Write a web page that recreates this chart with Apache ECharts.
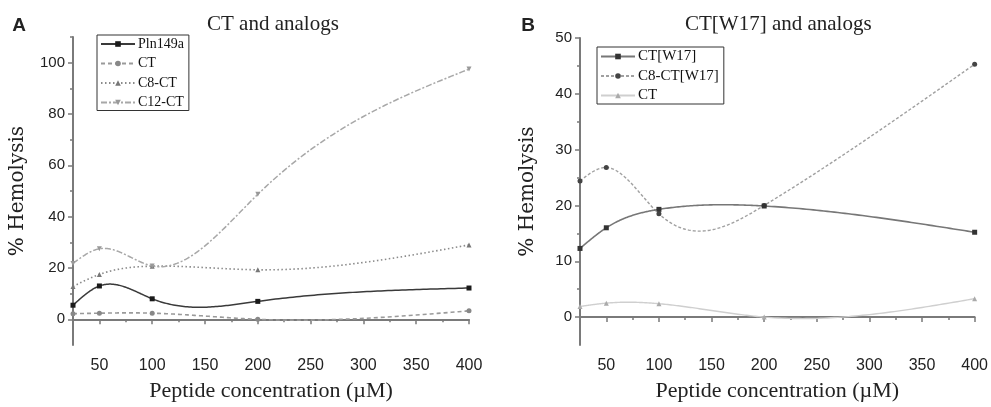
<!DOCTYPE html>
<html>
<head>
<meta charset="utf-8">
<script src="https://cdn.jsdelivr.net/npm/echarts@6/dist/echarts.min.js"></script>
<style>
  html, body { margin: 0; padding: 0; background: #fff; }
  #chart { width: 991px; height: 407px; }
</style>
</head>
<body>
<div id="chart"></div>
<script>
// Peptide concentrations tested (µM)
const concentrations = [25, 50, 100, 200, 400];
const xTicks = [50, 100, 150, 200, 250, 300, 350, 400];
const xMinorTicks = [75, 125, 175, 225, 275, 325, 375];

// Panel A: CT and analogs (% hemolysis)
const pln149a = [5.5, 13.0, 8.0, 7.0, 12.2];
const ctA = [2.2, 2.4, 2.4, 0.0, 3.3];
const c8ct = [12.8, 17.5, 20.7, 19.3, 29.0];
const c12ct = [21.8, 27.5, 20.8, 48.7, 97.5];
const yTicksA = [0, 20, 40, 60, 80, 100];
const yMinorTicksA = [10, 30, 50, 70, 90, 110];

// Panel B: CT[W17] and analogs (% hemolysis)
const ctW17 = [12.3, 16.0, 19.3, 19.9, 15.2];
const c8ctW17 = [24.4, 26.8, 18.5, 20.0, 45.3];
const ctB = [1.9, 2.5, 2.4, 0.0, 3.3];
const yTicksB = [0, 10, 20, 30, 40, 50];
const yMinorTicksB = [5, 15, 25, 35, 45];

const pairs = vals => concentrations.map((c, i) => [c, vals[i]]);

const AXIS_COLOR = '#7a7a7a';
const LABEL_COLOR = '#222';
const SERIF = '"Liberation Serif", "DejaVu Serif", serif';
const SANS = '"Liberation Sans", Arial, sans-serif';

function majorX(gridIndex) {
  return {
    type: 'value', gridIndex, min: 25, max: 400, position: 'bottom',
    name: 'Peptide concentration (\u00b5M)', nameLocation: 'middle', nameGap: 35,
    nameTextStyle: { fontFamily: SERIF, fontSize: 22, color: LABEL_COLOR },
    axisLine: { show: true, lineStyle: { color: AXIS_COLOR, width: 2 } },
    axisTick: { show: true, inside: false, length: 5, customValues: xTicks,
                lineStyle: { color: AXIS_COLOR, width: 1.5 } },
    axisLabel: { show: true, customValues: xTicks, margin: 13,
                 fontFamily: SANS, fontSize: 16, color: LABEL_COLOR },
    splitLine: { show: false }
  };
}
function minorX(gridIndex) {
  return {
    type: 'value', gridIndex, min: 25, max: 400, position: 'bottom',
    axisLine: { show: false },
    axisTick: { show: true, inside: false, length: 3, customValues: xMinorTicks,
                lineStyle: { color: AXIS_COLOR, width: 1.5 } },
    axisLabel: { show: false },
    splitLine: { show: false }
  };
}
function majorY(gridIndex, min, max, ticks, gap) {
  return {
    type: 'value', gridIndex, min, max, position: 'left',
    name: '% Hemolysis', nameLocation: 'middle', nameGap: gap, nameRotate: 90,
    nameTextStyle: { fontFamily: '"DejaVu Serif", serif', fontSize: 20, color: LABEL_COLOR },
    axisLine: { show: true, lineStyle: { color: AXIS_COLOR, width: 2 } },
    axisTick: { show: true, inside: false, length: 5, customValues: ticks,
                lineStyle: { color: AXIS_COLOR, width: 1.5 } },
    axisLabel: { show: true, customValues: ticks, margin: 8,
                 fontFamily: SANS, fontSize: 15, color: LABEL_COLOR },
    splitLine: { show: false }
  };
}
function minorY(gridIndex, min, max, ticks) {
  return {
    type: 'value', gridIndex, min, max, position: 'left',
    axisLine: { show: false },
    axisTick: { show: true, inside: false, length: 3, customValues: ticks,
                lineStyle: { color: AXIS_COLOR, width: 1.5 } },
    axisLabel: { show: false },
    splitLine: { show: false }
  };
}

// Natural cubic spline through (xs, ys); returns an evaluator.
function naturalSpline(xs, ys) {
  const n = xs.length;
  const h = [], alpha = [0];
  for (let i = 0; i < n - 1; i++) h.push(xs[i + 1] - xs[i]);
  for (let i = 1; i < n - 1; i++) {
    alpha.push(3 / h[i] * (ys[i + 1] - ys[i]) - 3 / h[i - 1] * (ys[i] - ys[i - 1]));
  }
  const l = [1], mu = [0], z = [0];
  for (let i = 1; i < n - 1; i++) {
    l[i] = 2 * (xs[i + 1] - xs[i - 1]) - h[i - 1] * mu[i - 1];
    mu[i] = h[i] / l[i];
    z[i] = (alpha[i] - h[i - 1] * z[i - 1]) / l[i];
  }
  const c = new Array(n).fill(0), b = [], d = [];
  for (let j = n - 2; j >= 0; j--) {
    c[j] = z[j] - mu[j] * c[j + 1];
    b[j] = (ys[j + 1] - ys[j]) / h[j] - h[j] * (c[j + 1] + 2 * c[j]) / 3;
    d[j] = (c[j + 1] - c[j]) / (3 * h[j]);
  }
  return x => {
    let j = 0;
    while (j < n - 2 && x > xs[j + 1]) j++;
    const dx = x - xs[j];
    return ys[j] + b[j] * dx + c[j] * dx * dx + d[j] * dx * dx * dx;
  };
}

// Spline curve drawn as a custom series, reading its points through the axes.
function curveSeries(vals, axisIndex, style) {
  return {
    type: 'custom', data: pairs(vals), clip: true, silent: true,
    xAxisIndex: axisIndex, yAxisIndex: axisIndex, z: style.z || 2,
    renderItem(params, api) {
      if (params.dataIndexInside !== 0) return null;
      const n = params.dataInsideLength;
      const xs = [], ys = [];
      for (let i = 0; i < n; i++) { xs.push(api.value(0, i)); ys.push(api.value(1, i)); }
      const f = naturalSpline(xs, ys);
      const pts = [];
      for (let i = 0; i < n - 1; i++) {
        const steps = 60;
        for (let s = 0; s < steps; s++) {
          const x = xs[i] + (xs[i + 1] - xs[i]) * s / steps;
          pts.push(api.coord([x, f(x)]));
        }
      }
      pts.push(api.coord([xs[n - 1], ys[n - 1]]));
      return {
        type: 'polyline', shape: { points: pts },
        style: { stroke: style.color, lineWidth: style.width || 1.4,
                 lineDash: style.dash || null, fill: null }
      };
    }
  };
}

// Marker series (also supplies the legend entry); its own line is hidden.
function markerSeries(name, vals, axisIndex, opts) {
  return {
    type: 'line', name, data: pairs(vals),
    xAxisIndex: axisIndex, yAxisIndex: axisIndex,
    symbol: opts.symbol, symbolSize: opts.size || 5, symbolRotate: opts.rotate || 0,
    lineStyle: { color: opts.color, width: opts.width || 1.4, type: opts.dash || 'solid', opacity: 0 },
    itemStyle: { color: opts.markColor || opts.color },
    emphasis: { disabled: true },
    z: (opts.z || 2) + 1
  };
}

function plotLine(name, vals, axisIndex, opts) {
  return [curveSeries(vals, axisIndex, opts), markerSeries(name, vals, axisIndex, opts)];
}

function legendBox(left, top, names, fontSize, gap) {
  return {
    orient: 'vertical', left, top, data: names,
    backgroundColor: '#fff', borderColor: '#333', borderWidth: 1, borderRadius: 0,
    padding: [2, 5, 1, 3], itemGap: gap, itemWidth: 34, itemHeight: 7,
    lineStyle: { opacity: 1 },
    textStyle: { fontFamily: SERIF, fontSize, color: '#111', padding: [0, 0, 0, -2] },
    selectedMode: false
  };
}

function caption(text, x, y, font, align) {
  return {
    type: 'text', x, y, silent: true,
    style: { text, font, fill: '#222', align: align || 'center', verticalAlign: 'middle',
             textAlign: align || 'center', textVerticalAlign: 'middle' }
  };
}

const chart = echarts.init(document.getElementById('chart'), null, { renderer: 'canvas' });
chart.setOption({
  animation: false,
  backgroundColor: '#fff',
  grid: [
    { left: 73, top: 37, width: 396, height: 312, containLabel: false },
    { left: 580, top: 38, width: 396, height: 312, containLabel: false }
  ],
  xAxis: [majorX(0), minorX(0), majorX(1), minorX(1)],
  yAxis: [
    majorY(0, -10, 110, yTicksA, 45), minorY(0, -10, 110, yMinorTicksA),
    majorY(1, -5, 50, yTicksB, 42), minorY(1, -5, 50, yMinorTicksB)
  ],
  legend: [
    legendBox(97, 35, ['Pln149a', 'CT', 'C8-CT', 'C12-CT'], 14, 5.5),
    legendBox(597, 47, ['CT[W17]', 'C8-CT[W17]', 'CT '], 15, 4.5)
  ],
  graphic: [
    caption('A', 19, 26, 'bold 19px "Liberation Sans", Arial, sans-serif'),
    caption('B', 528, 26, 'bold 19px "Liberation Sans", Arial, sans-serif'),
    caption('CT and analogs', 207, 24, '21px "Liberation Serif", serif', 'left'),
    caption('CT[W17] and analogs', 685, 24, '21px "Liberation Serif", serif', 'left')
  ],
  series: [
    ...plotLine('Pln149a', pln149a, 0, { symbol: 'rect', color: '#3a3a3a', markColor: '#1a1a1a', width: 1.5, z: 5 }),
    ...plotLine('CT', ctA, 0, { symbol: 'circle', color: '#9a9a9a', markColor: '#888', dash: [4, 3], width: 1.6 }),
    ...plotLine('C8-CT', c8ct, 0, { symbol: 'triangle', color: '#8a8a8a', markColor: '#777', dash: [1.5, 2.5], width: 1.6 }),
    ...plotLine('C12-CT', c12ct, 0, { symbol: 'triangle', rotate: 180, color: '#a8a8a8', markColor: '#999', dash: [6, 2, 2, 2], width: 1.5 }),

    ...plotLine('CT[W17]', ctW17, 2, { symbol: 'rect', color: '#777', markColor: '#333', width: 1.6, z: 5 }),
    ...plotLine('C8-CT[W17]', c8ctW17, 2, { symbol: 'circle', color: '#a0a0a0', markColor: '#444', dash: [3, 2], width: 1.4, z: 4 }),
    ...plotLine('CT ', ctB, 2, { symbol: 'triangle', color: '#cfcfcf', markColor: '#aaa', width: 1.4 })
  ]
});
</script>
</body>
</html>
